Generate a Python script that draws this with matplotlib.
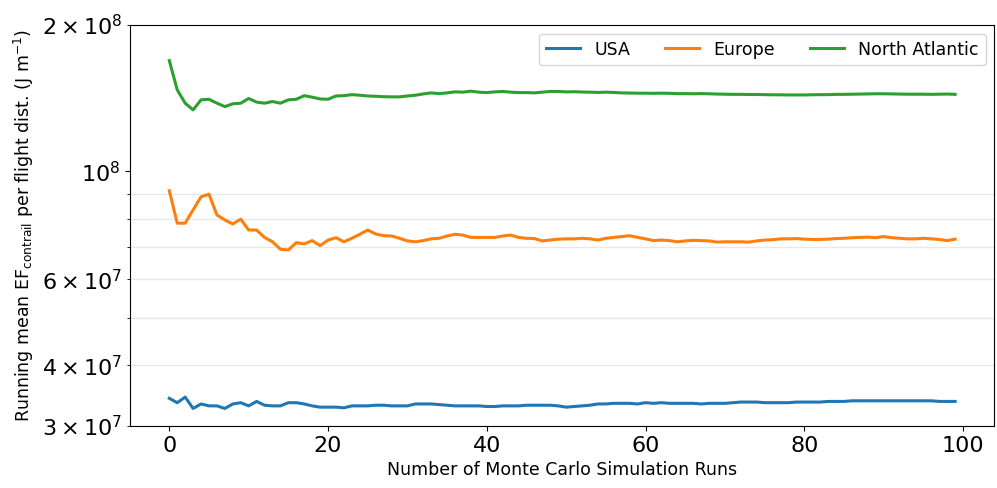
import numpy as np
import matplotlib
matplotlib.use("Agg")
import matplotlib.pyplot as plt

# running mean values, units of 1e7 J/m
runs = np.arange(100)

usa = [3.42, 3.35, 3.44, 3.26, 3.33, 3.30, 3.30, 3.26, 3.33, 3.35,
       3.30, 3.37, 3.31, 3.30, 3.30, 3.35, 3.35, 3.33, 3.30, 3.28,
       3.28, 3.28, 3.27, 3.30, 3.30, 3.30, 3.31, 3.31, 3.30, 3.30,
       3.30, 3.33, 3.33, 3.33, 3.32, 3.31, 3.30, 3.30, 3.30, 3.30,
       3.29, 3.29, 3.30, 3.30, 3.30, 3.31, 3.31, 3.31, 3.31, 3.30,
       3.28, 3.29, 3.30, 3.31, 3.33, 3.33, 3.34, 3.34, 3.34, 3.33,
       3.35, 3.34, 3.35, 3.34, 3.34, 3.34, 3.34, 3.33, 3.34, 3.34,
       3.34, 3.35, 3.36, 3.36, 3.36, 3.35, 3.35, 3.35, 3.35, 3.36,
       3.36, 3.36, 3.36, 3.37, 3.37, 3.37, 3.38, 3.38, 3.38, 3.38,
       3.38, 3.38, 3.38, 3.38, 3.38, 3.38, 3.38, 3.37, 3.37, 3.37]

europe = [9.13, 7.83, 7.83, 8.34, 8.87, 8.98, 8.14, 7.95, 7.80, 7.98,
          7.58, 7.58, 7.32, 7.17, 6.92, 6.90, 7.14, 7.10, 7.21, 7.04,
          7.23, 7.31, 7.17, 7.29, 7.43, 7.58, 7.44, 7.38, 7.37, 7.29,
          7.20, 7.17, 7.21, 7.27, 7.29, 7.37, 7.43, 7.40, 7.32, 7.32,
          7.32, 7.32, 7.37, 7.40, 7.32, 7.29, 7.28, 7.20, 7.23, 7.26,
          7.27, 7.27, 7.29, 7.27, 7.23, 7.29, 7.32, 7.35, 7.38, 7.32,
          7.27, 7.21, 7.23, 7.21, 7.17, 7.20, 7.22, 7.21, 7.20, 7.16,
          7.17, 7.17, 7.17, 7.16, 7.20, 7.23, 7.24, 7.27, 7.27, 7.28,
          7.26, 7.25, 7.25, 7.26, 7.28, 7.29, 7.31, 7.32, 7.33, 7.31,
          7.35, 7.31, 7.29, 7.27, 7.27, 7.29, 7.27, 7.25, 7.21, 7.26]

north_atlantic = [16.89, 14.71, 13.81, 13.38, 14.03, 14.07, 13.81, 13.59, 13.77, 13.81,
                  14.12, 13.88, 13.81, 13.92, 13.81, 14.03, 14.07, 14.31, 14.21, 14.09,
                  14.07, 14.29, 14.31, 14.38, 14.34, 14.29, 14.27, 14.24, 14.23, 14.23,
                  14.29, 14.34, 14.43, 14.50, 14.45, 14.50, 14.57, 14.55, 14.62, 14.55,
                  14.52, 14.57, 14.60, 14.55, 14.52, 14.52, 14.50, 14.55, 14.60, 14.60,
                  14.57, 14.58, 14.56, 14.55, 14.53, 14.55, 14.53, 14.50, 14.49, 14.48,
                  14.48, 14.47, 14.48, 14.47, 14.45, 14.45, 14.44, 14.45, 14.44, 14.42,
                  14.41, 14.40, 14.40, 14.39, 14.39, 14.38, 14.37, 14.37, 14.36, 14.36,
                  14.36, 14.37, 14.38, 14.38, 14.40, 14.40, 14.41, 14.42, 14.43, 14.44,
                  14.44, 14.43, 14.42, 14.41, 14.41, 14.41, 14.40, 14.41, 14.42, 14.40]

labels = ["USA", "Europe", "North Atlantic"]

fig = plt.figure(figsize=(9.97, 4.88), dpi=100)
ax = fig.add_axes([0.1304, 0.127, 0.867, 0.822])

for vals, lab in zip([usa, europe, north_atlantic], labels):
    ax.plot(runs, np.array(vals) * 1e7, lw=2.2, label=lab)

ax.set_yscale("log")
ax.set_ylim(3e7, 2e8)
ax.grid(which="minor", axis="y", color="#e8e8e8", lw=1)
ax.tick_params(which="both", labelsize=16)
ax.set_xlabel("Number of Monte Carlo Simulation Runs", fontsize=12.5)
ax.set_ylabel(r"Running mean EF$_{\rm contrail}$ per flight dist. (J m$^{-1}$)", fontsize=12.5)
ax.legend(loc="upper right", ncol=3, fontsize=12.5)

fig.savefig("out.png", dpi=100)
